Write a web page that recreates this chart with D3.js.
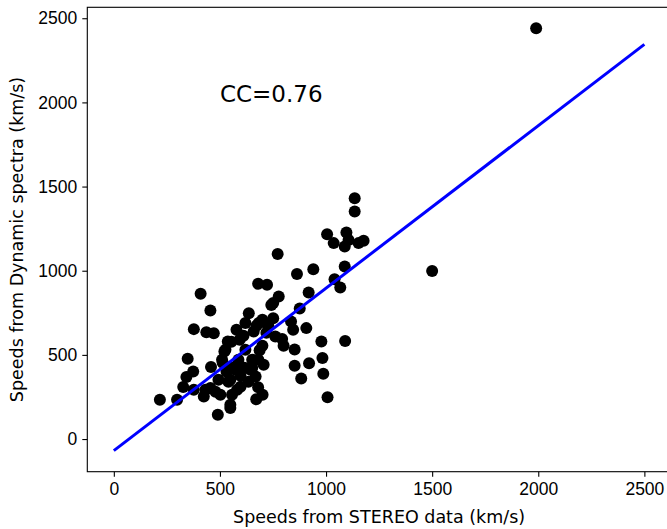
<!DOCTYPE html>
<html>
<head>
<meta charset="utf-8">
<script src="https://cdn.jsdelivr.net/npm/d3@7"></script>
<style>
  body { margin: 0; background: #fff; }
  svg { display: block; font-family: 'DejaVu Sans', sans-serif; }
</style>
</head>
<body>
<div id="chart"></div>
<script>
// speeds (km/s)
const stereoSpeeds = [
  1990, 1500, 1135, 1135, 1005, 1036, 1096, 1106, 1088, 1153, 1177, 772, 940, 863,
  1088, 1040, 1067, 918, 680, 722, 777, 751, 876, 751, 835, 845, 907, 978, 1090,
  852, 800, 793, 761, 687, 706, 852, 920, 983, 987, 883, 1007, 680, 701, 671, 683,
  659, 652, 652, 668, 409, 455, 377, 436, 471, 348, 374, 342, 327, 217, 298, 377,
  432, 424, 455, 458, 490, 549, 549, 537, 521, 510, 578, 636, 620, 593, 644, 573,
  549, 502, 557, 581, 742, 513, 531, 559, 587, 597, 620, 540, 597, 493, 634, 526,
  554, 611, 700, 719, 728, 700, 672, 681, 615, 479
];
const spectraSpeeds = [
  2441, 999, 1431, 1352, 1217, 1164, 1227, 1183, 1144, 1164, 1178, 1100, 1009, 980,
  1025, 950, 900, 870, 922, 916, 847, 808, 775, 718, 698, 649, 659, 580, 582,
  532, 554, 594, 609, 527, 441, 436, 451, 481, 388, 360, 248, 308, 263, 236, 689,
  639, 471, 422, 372, 863, 764, 653, 635, 629, 477, 401, 368, 309, 233, 233, 293,
  293, 253, 303, 428, 144, 184, 204, 580, 520, 471, 649, 748, 689, 590, 412, 412,
  352, 263, 263, 293, 797, 453, 400, 424, 471, 376, 531, 340, 311, 352, 340, 531,
  578, 614, 554, 632, 673, 709, 673, 471, 424, 281
];

// fitted line end points
const fitX = [0, 2500];
const fitY = [-69, 2345];

const xTicks = [0, 500, 1000, 1500, 2000, 2500];
const yTicks = [0, 500, 1000, 1500, 2000, 2500];
const ccLabel = 'CC=0.76';

const points = stereoSpeeds.map((x, i) => ({ x, y: spectraSpeeds[i] }));

const width = 667;
const height = 529;
const margin = { top: 7.3, right: -3.9, bottom: 57.3, left: 87.3 };

const usableArea = {
  top: margin.top,
  right: width - margin.right,
  bottom: height - margin.bottom,
  left: margin.left,
};

const svg = d3
  .select('#chart')
  .append('svg')
  .attr('width', width)
  .attr('height', height);

const xScale = d3.scaleLinear().domain([-125, 2625]).range([usableArea.left, usableArea.right]);
const yScale = d3.scaleLinear().domain([-194, 2565]).range([usableArea.bottom, usableArea.top]);

// axes
const xAxis = svg
  .append('g')
  .attr('transform', `translate(0, ${usableArea.bottom})`)
  .call(d3.axisBottom(xScale).tickValues(xTicks).tickSize(5).tickPadding(6).tickFormat(d3.format('d')));

const yAxis = svg
  .append('g')
  .attr('transform', `translate(${usableArea.left}, 0)`)
  .call(d3.axisLeft(yScale).tickValues(yTicks).tickSize(5).tickPadding(5).tickFormat(d3.format('d')));

[xAxis, yAxis].forEach((g) => {
  g.select('.domain').remove();
  g.selectAll('line').attr('stroke', '#000').attr('stroke-width', 1.1);
  g.selectAll('text').attr('fill', '#000').style('font-size', '17.5px');
});

// frame
svg
  .append('rect')
  .attr('x', usableArea.left)
  .attr('y', usableArea.top)
  .attr('width', usableArea.right - usableArea.left)
  .attr('height', usableArea.bottom - usableArea.top)
  .attr('fill', 'none')
  .attr('stroke', '#000')
  .attr('stroke-width', 1.1);

// scatter dots
svg
  .append('g')
  .selectAll('circle')
  .data(points)
  .join('circle')
  .attr('cx', (d) => xScale(d.x))
  .attr('cy', (d) => yScale(d.y))
  .attr('r', 6)
  .attr('fill', '#000');

// regression line
svg
  .append('path')
  .datum(fitX.map((x, i) => [x, fitY[i]]))
  .attr('fill', 'none')
  .attr('stroke', '#0000ff')
  .attr('stroke-width', 3)
  .attr('d', d3.line().x((d) => xScale(d[0])).y((d) => yScale(d[1])));

// correlation label
svg
  .append('text')
  .attr('x', xScale(500))
  .attr('y', yScale(2000))
  .style('font-size', '23px')
  .text(ccLabel);

// axis titles
svg
  .append('text')
  .attr('x', (usableArea.left + usableArea.right) / 2)
  .attr('y', 523)
  .attr('text-anchor', 'middle')
  .style('font-size', '17.5px')
  .text('Speeds from STEREO data (km/s)');

svg
  .append('text')
  .attr('transform', `translate(23, ${(usableArea.top + usableArea.bottom) / 2}) rotate(-90)`)
  .attr('text-anchor', 'middle')
  .style('font-size', '17.5px')
  .text('Speeds from Dynamic spectra (km/s)');
</script>
</body>
</html>
